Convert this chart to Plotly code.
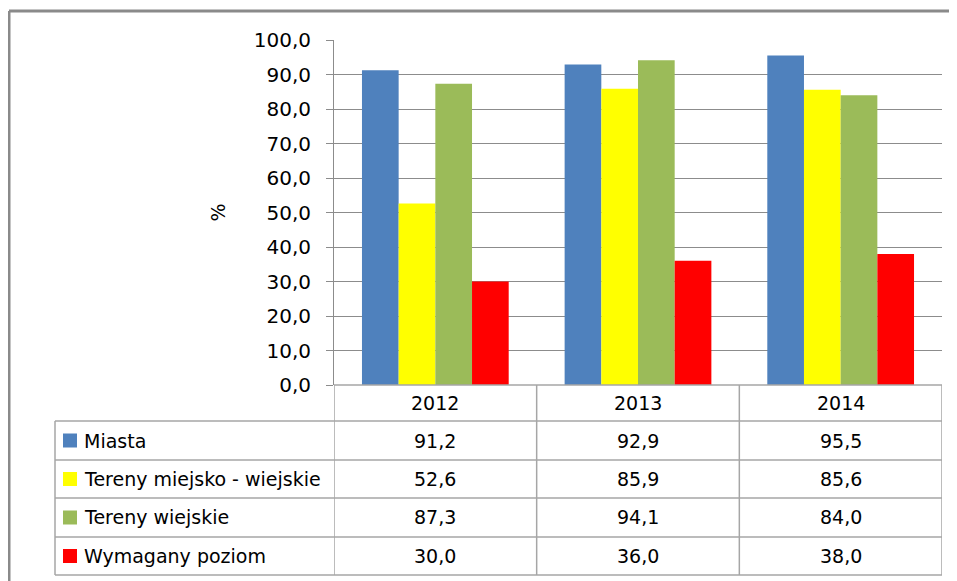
import plotly.graph_objects as go

# ---- data ----
years = ["2012", "2013", "2014"]
series_names = ["Miasta", "Tereny miejsko - wiejskie", "Tereny wiejskie", "Wymagany poziom"]
miasta = [91.2, 92.9, 95.5]
miejsko_wiejskie = [52.6, 85.9, 85.6]
wiejskie = [87.3, 94.1, 84.0]
wymagany = [30.0, 36.0, 38.0]
y_title = "%"

series_values = [miasta, miejsko_wiejskie, wiejskie, wymagany]
colors = ["#4F81BD", "#FFFF00", "#9BBB59", "#FF0000"]

# page has an 8px body margin; figure is sized so it ends at the window edge
OFF = 8
W, H = 957 - OFF, 581 - OFF
FONT = "'DejaVu Sans', Verdana, sans-serif"
GRID = "#8C8C8C"
TLINE = "#A6A6A6"


def px(x):
    return (x - OFF) / W


def py(y):
    return 1 - (y - OFF) / H


fig = go.Figure()
for name, vals, col in zip(series_names, series_values, colors):
    fig.add_trace(go.Bar(x=years, y=vals, name=name, marker=dict(color=col, line=dict(width=0))))

# plot area in window pixels
X0, X1 = 334, 942
Y_TOP, Y_BOT = 40, 385
ROW_EDGES = [385, 421, 460, 498, 537, 575]
TABLE_LEFT = 55

shapes = []
# outer frame (top and left visible)
shapes.append(dict(type="line", xref="paper", yref="paper", x0=px(9), x1=1.02, y0=py(11), y1=py(11),
                   line=dict(color="#8A8A8A", width=3)))
shapes.append(dict(type="line", xref="paper", yref="paper", x0=px(9), x1=px(9), y0=py(11), y1=-0.02,
                   line=dict(color="#8A8A8A", width=3)))

# table horizontal lines
shapes.append(dict(type="line", xref="paper", yref="paper", x0=px(X0), x1=px(X1),
                   y0=py(ROW_EDGES[0]), y1=py(ROW_EDGES[0]), line=dict(color=TLINE, width=1.5)))
for ye in ROW_EDGES[1:]:
    shapes.append(dict(type="line", xref="paper", yref="paper", x0=px(TABLE_LEFT), x1=px(X1),
                       y0=py(ye), y1=py(ye), line=dict(color=TLINE, width=1.5)))
# left border of table (label column)
shapes.append(dict(type="line", xref="paper", yref="paper", x0=px(TABLE_LEFT), x1=px(TABLE_LEFT),
                   y0=py(ROW_EDGES[1]), y1=py(ROW_EDGES[-1]), line=dict(color=TLINE, width=1.5)))
# vertical dividers at category boundaries (through the x axis scale)
for i in range(len(years) + 1):
    shapes.append(dict(type="line", xref="x", yref="paper", x0=i - 0.5, x1=i - 0.5,
                       y0=py(ROW_EDGES[0]), y1=py(ROW_EDGES[-1]), line=dict(color=TLINE, width=1.5)))

annotations = []
# header row: years
for i, yr in enumerate(years):
    annotations.append(dict(x=i, xref="x", y=py((ROW_EDGES[0] + ROW_EDGES[1]) / 2), yref="paper",
                            text=yr, showarrow=False, xanchor="center", yanchor="middle",
                            font=dict(family=FONT, size=19, color="#000000")))
# series rows
for r, (name, vals, col) in enumerate(zip(series_names, series_values, colors)):
    yc = (ROW_EDGES[r + 1] + ROW_EDGES[r + 2]) / 2
    shapes.append(dict(type="rect", xref="paper", yref="paper", x0=px(63), x1=px(77),
                       y0=py(yc - 7), y1=py(yc + 7), fillcolor=col, line=dict(width=0)))
    annotations.append(dict(x=px(82), xref="paper", y=py(yc), yref="paper", text=name,
                            showarrow=False, xanchor="left", yanchor="middle",
                            font=dict(family=FONT, size=19, color="#000000")))
    for i, v in enumerate(vals):
        annotations.append(dict(x=i, xref="x", y=py(yc), yref="paper",
                                text=f"{v:.1f}".replace(".", ","), showarrow=False,
                                xanchor="center", yanchor="middle",
                                font=dict(family=FONT, size=19, color="#000000")))

fig.update_layout(
    width=W, height=H,
    margin=dict(l=0, r=0, t=0, b=0, autoexpand=False),
    paper_bgcolor="white", plot_bgcolor="white",
    barmode="group", bargap=0.276, bargroupgap=0,
    showlegend=False,
    separators=", ",
    xaxis=dict(type="category", domain=[px(X0), px(X1)], range=[-0.5, 2.5], showticklabels=False,
               showgrid=False, showline=False, zeroline=False, ticks="", automargin=False),
    yaxis=dict(domain=[py(Y_BOT), py(Y_TOP)], range=[0, 100], dtick=10, tickformat=".1f",
               showgrid=True, gridcolor=GRID, gridwidth=1, automargin=False,
               showline=True, linecolor=GRID, linewidth=1,
               zeroline=False, ticks="outside", ticklen=7, tickcolor=GRID,
               ticklabelstandoff=11,
               tickfont=dict(family=FONT, size=20, color="#000000"),
               title=dict(text=y_title, standoff=23, font=dict(family=FONT, size=19, color="#000000"))),
    shapes=shapes, annotations=annotations,
)

fig.write_html("out.html")
